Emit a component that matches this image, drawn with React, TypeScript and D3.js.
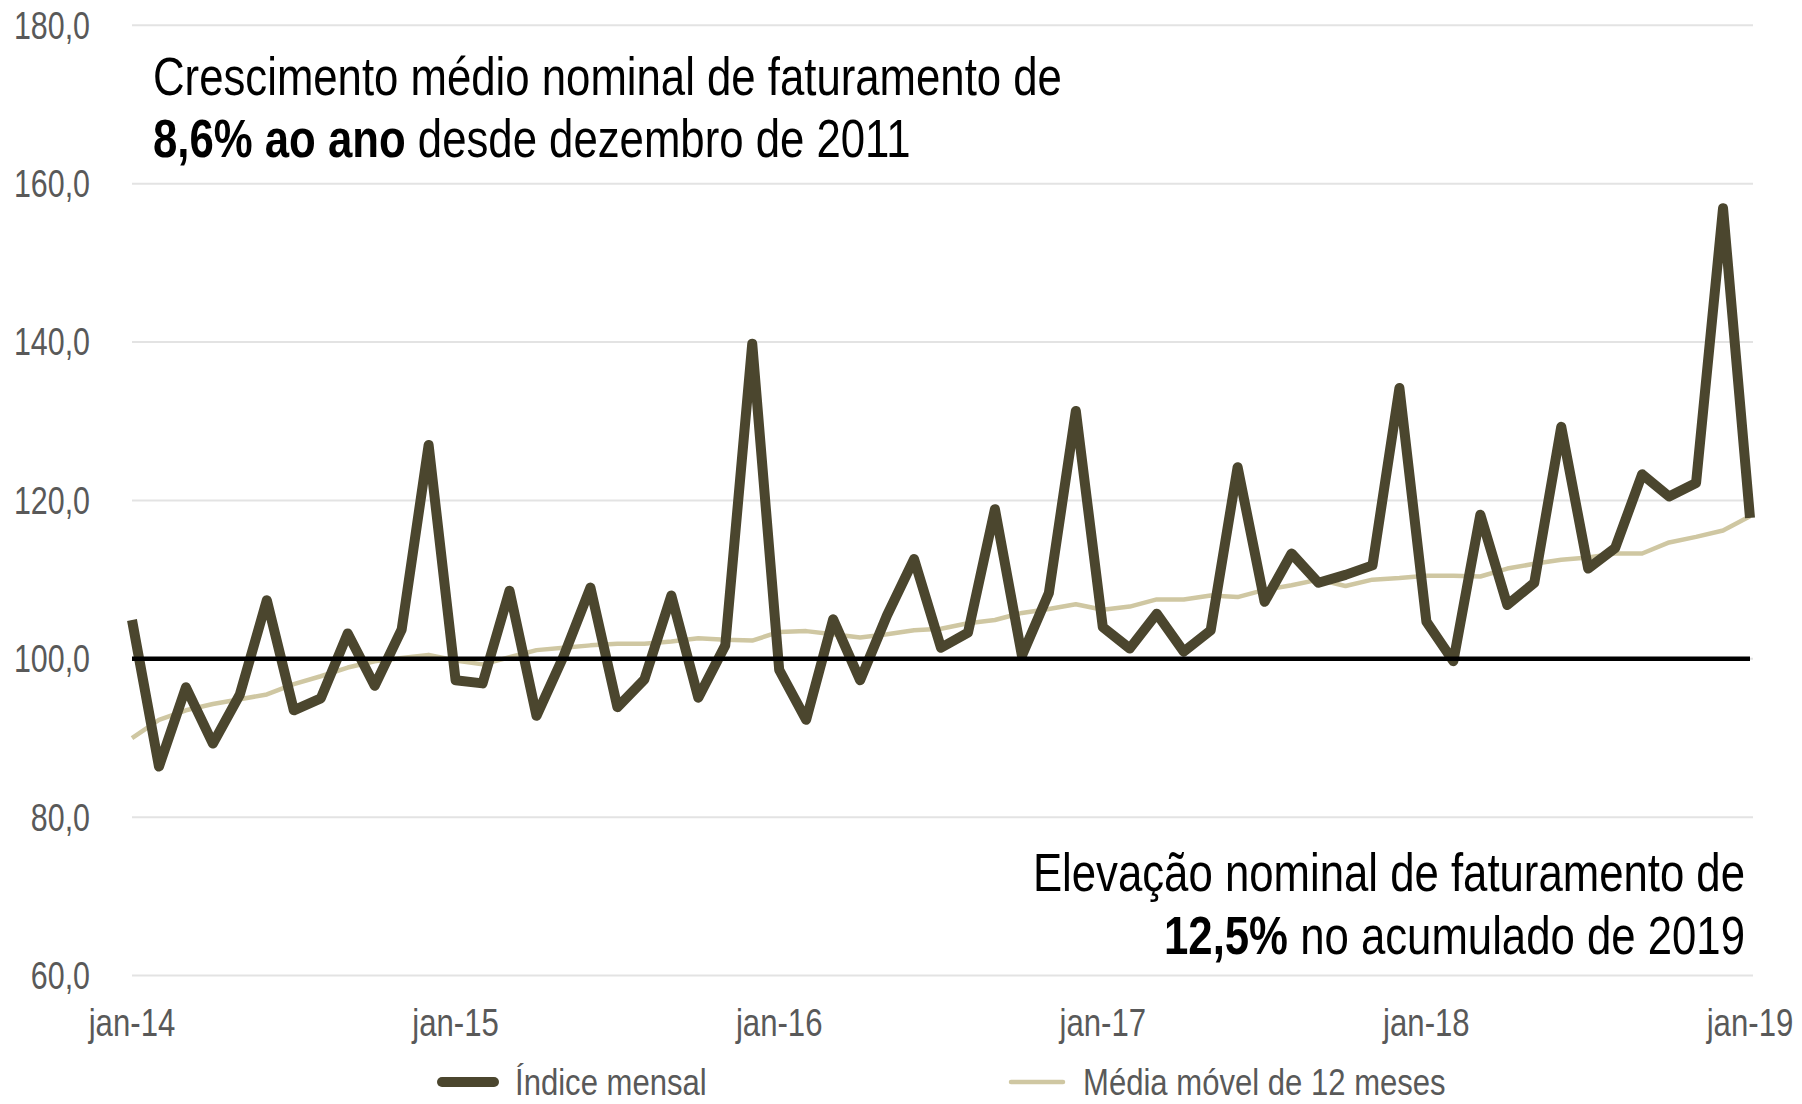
import React, { useEffect, useRef } from 'react';
import * as d3 from 'd3';

// monthly index, jan-14 .. jan-19
const indiceMensal = [
  104.9, 86.4, 96.4, 89.3, 95.5, 107.4, 93.5, 95.0, 103.2, 96.6, 103.7, 127.0,
  97.3, 96.9, 108.6, 92.8, 100.3, 109.0, 93.9, 97.4, 108.0, 95.1, 101.7, 139.8,
  98.6, 92.3, 105.0, 97.3, 105.5, 112.6, 101.4, 103.3, 118.9, 100.4, 108.3, 131.3,
  104.0, 101.3, 105.7, 100.9, 103.6, 124.2, 107.2, 113.3, 109.6, 110.6, 111.8, 134.2,
  104.7, 99.7, 118.2, 106.8, 109.6, 129.3, 111.4, 114.0, 123.3, 120.5, 122.2, 156.9,
  117.8,
];

const mediaMovel = [
  90.0, 92.3, 93.5, 94.3, 94.9, 95.5, 96.8, 97.8, 98.9, 99.7, 100.1, 100.5,
  99.8, 99.3, 100.2, 101.1, 101.4, 101.7, 101.9, 101.9, 102.2, 102.6, 102.4, 102.3,
  103.4, 103.5, 103.1, 102.7, 103.1, 103.6, 103.8, 104.5, 104.9, 105.8, 106.3, 106.9,
  106.2, 106.6, 107.5, 107.5, 108.0, 107.8, 108.7, 109.3, 110.0, 109.2, 110.0, 110.2,
  110.5, 110.5, 110.4, 111.4, 112.0, 112.5, 112.8, 113.3, 113.3, 114.7, 115.4, 116.2,
  118.0,
];

const yTicks = [60, 80, 100, 120, 140, 160, 180];
const xTickIdx = [0, 12, 24, 36, 48, 60];
const xTickLabels = ['jan-14', 'jan-15', 'jan-16', 'jan-17', 'jan-18', 'jan-19'];

const DARK = '#4b462e';
const LIGHT = '#cfc7a2';
const FONT = '"Liberation Sans Narrow", "Arial Narrow", "Liberation Sans", Arial, sans-serif';
// no narrow face installed, so squeeze the regular one
const NARROW = 0.82;

const App = () => {
  const svgRef = useRef<SVGSVGElement>(null);

  useEffect(() => {
    const W = 1802;
    const H = 1104;
    const left = 132;
    const right = 1750;

    const svg = d3.select(svgRef.current).attr('width', W).attr('height', H);
    svg.selectAll('*').remove();

    const x = d3.scaleLinear().domain([0, indiceMensal.length - 1]).range([left, right]);
    const y = d3.scaleLinear().domain([60, 180]).range([975.6, 25.3]);

    const at = (px: number, py: number, sx = NARROW) => `translate(${px},${py}) scale(${sx},1)`;

    // gridlines
    svg.append('g')
      .selectAll('line')
      .data(yTicks)
      .enter()
      .append('line')
      .attr('x1', left)
      .attr('x2', right + 3)
      .attr('y1', d => y(d))
      .attr('y2', d => y(d))
      .attr('stroke', '#e3e3e3')
      .attr('stroke-width', 2);

    // y labels
    svg.append('g')
      .selectAll('text')
      .data(yTicks)
      .enter()
      .append('text')
      .attr('transform', d => at(90, y(d), 0.8))
      .attr('dy', '0.35em')
      .attr('text-anchor', 'end')
      .attr('font-family', FONT)
      .attr('font-size', 38)
      .attr('fill', '#595959')
      .text(d => d3.format('.1f')(d).replace('.', ','));

    // x labels
    svg.append('g')
      .selectAll('text')
      .data(xTickIdx)
      .enter()
      .append('text')
      .attr('transform', d => at(x(d), 1036))
      .attr('text-anchor', 'middle')
      .attr('font-family', FONT)
      .attr('font-size', 38)
      .attr('fill', '#595959')
      .text((d, i) => xTickLabels[i]);

    // moving average
    const line = d3.line<number>().x((d, i) => x(i)).y(d => y(d));

    svg.append('path')
      .datum(mediaMovel)
      .attr('d', line)
      .attr('fill', 'none')
      .attr('stroke', LIGHT)
      .attr('stroke-width', 4.5)
      .attr('stroke-linejoin', 'round');

    // monthly index
    svg.append('path')
      .datum(indiceMensal)
      .attr('d', line)
      .attr('fill', 'none')
      .attr('stroke', DARK)
      .attr('stroke-width', 10)
      .attr('stroke-linejoin', 'round');

    // base 100
    svg.append('line')
      .attr('x1', left)
      .attr('x2', right)
      .attr('y1', y(100))
      .attr('y2', y(100))
      .attr('stroke', '#000')
      .attr('stroke-width', 4.5);

    // annotations
    const ann = svg.append('g').attr('font-family', FONT).attr('font-size', 53).attr('fill', '#000');
    ann.append('text').attr('transform', at(153, 95, 0.825)).text('Crescimento médio nominal de faturamento de');
    const t2 = ann.append('text').attr('transform', at(153, 157, 0.825));
    t2.append('tspan').attr('font-weight', 'bold').text('8,6% ao ano');
    t2.append('tspan').text(' desde dezembro de 2011');

    ann.append('text').attr('transform', at(1745, 891, 0.825)).attr('text-anchor', 'end')
      .text('Elevação nominal de faturamento de');
    const t4 = ann.append('text').attr('transform', at(1745, 954, 0.825)).attr('text-anchor', 'end');
    t4.append('tspan').attr('font-weight', 'bold').text('12,5%');
    t4.append('tspan').text(' no acumulado de 2019');

    // legend
    const legend = [
      { label: 'Índice mensal', color: DARK, width: 10, x0: 442, x1: 494, tx: 515 },
      { label: 'Média móvel de 12 meses', color: LIGHT, width: 4.5, x0: 1011, x1: 1063, tx: 1083 },
    ];
    const lg = svg.append('g');
    legend.forEach(l => {
      lg.append('line')
        .attr('x1', l.x0).attr('x2', l.x1)
        .attr('y1', 1082).attr('y2', 1082)
        .attr('stroke', l.color)
        .attr('stroke-width', l.width)
        .attr('stroke-linecap', 'round');
      lg.append('text')
        .attr('transform', at(l.tx, 1082, 0.84))
        .attr('dy', '0.35em')
        .attr('font-family', FONT)
        .attr('font-size', 37)
        .attr('fill', '#595959')
        .text(l.label);
    });
  }, []);

  return <svg ref={svgRef} style={{ position: 'absolute', left: 0, top: 0 }}></svg>;
};

export default App;
